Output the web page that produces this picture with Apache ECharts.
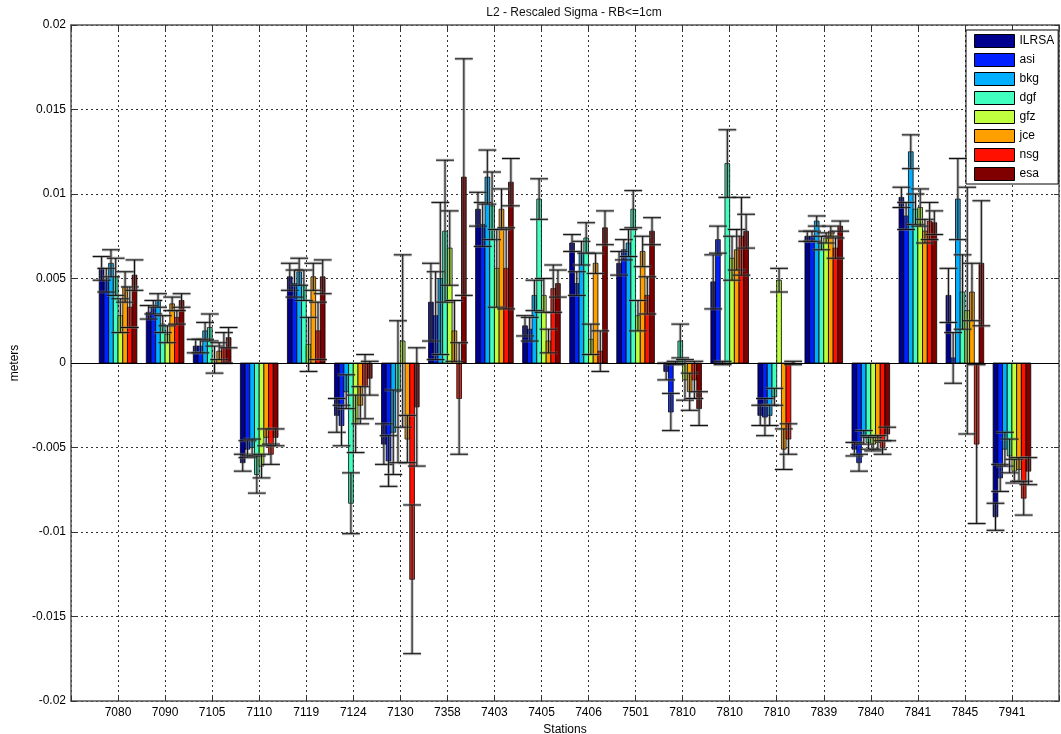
<!DOCTYPE html>
<html>
<head>
<meta charset="utf-8">
<script src="https://cdn.jsdelivr.net/npm/echarts@6/dist/echarts.min.js"></script>
<style>
  html, body { margin: 0; padding: 0; background: #fff; }
  #chart { width: 1061px; height: 734px; }
</style>
</head>
<body>
<div id="chart"></div>
<script>
// Stations along the x axis (tick labels)
const stations = ['7080', '7090', '7105', '7110', '7119', '7124', '7130', '7358', '7403', '7405',
                  '7406', '7501', '7810', '7810', '7810', '7839', '7840', '7841', '7845', '7941'];

// Analysis centres and their jet colours
const centers = ['ILRSA', 'asi', 'bkg', 'dgf', 'gfz', 'jce', 'nsg', 'esa'];
const colors = ['#00008F', '#0020FF', '#00AFFF', '#40FFBF', '#BFFF40', '#FFA000', '#FF1000', '#800000'];

// Mean values per station (meters)
const valILRSA = [0.0056, 0.0030, 0.0010, -0.0059, 0.0051, -0.0031, -0.0048, 0.0036, 0.0091, 0.0022, 0.0071, 0.0059, -0.0005, 0.0048, -0.0031, 0.0075, -0.0051, 0.0098, 0.0040, -0.0091];
const valAsi   = [0.0049, 0.0033, 0.0010, -0.0051, 0.0047, -0.0037, -0.0058, 0.0028, 0.0082, 0.0020, 0.0047, 0.0067, -0.0029, 0.0073, -0.0032, 0.0075, -0.0059, 0.0087, 0.0003, -0.0068];
const valBkg   = [0.0059, 0.0037, 0.0019, -0.0050, 0.0054, -0.0017, -0.0041, 0.0050, 0.0110, 0.0040, 0.0065, 0.0071, 0.0000, 0.0000, -0.0031, 0.0084, -0.0044, 0.0125, 0.0097, -0.0051];
const valDgf   = [0.0051, 0.0023, 0.0021, -0.0066, 0.0046, -0.0083, -0.0017, 0.0078, 0.0093, 0.0097, 0.0074, 0.0091, 0.0013, 0.0118, -0.0020, 0.0071, -0.0047, 0.0091, 0.0042, -0.0055];
const valGfz   = [0.0028, 0.0017, 0.0002, -0.0061, 0.0011, -0.0036, 0.0013, 0.0068, 0.0056, 0.0040, 0.0014, 0.0028, -0.0010, 0.0062, 0.0049, 0.0074, -0.0048, 0.0092, 0.0031, -0.0064];
const valJce   = [0.0045, 0.0035, 0.0007, -0.0044, 0.0051, -0.0025, -0.0045, 0.0019, 0.0091, 0.0013, 0.0059, 0.0066, -0.0017, 0.0067, -0.0051, 0.0078, -0.0047, 0.0078, 0.0042, -0.0063];
const valNsg   = [0.0033, 0.0027, 0.0009, -0.0054, 0.0019, -0.0014, -0.0128, -0.0021, 0.0056, 0.0044, 0.0007, 0.0040, -0.0010, 0.0075, -0.0045, 0.0068, -0.0050, 0.0084, -0.0048, -0.0080];
const valEsa   = [0.0052, 0.0037, 0.0015, -0.0044, 0.0051, -0.0009, -0.0026, 0.0110, 0.0107, 0.0047, 0.0080, 0.0078, -0.0027, 0.0078, 0.0000, 0.0081, -0.0042, 0.0083, 0.0059, -0.0064];

// Rescaled sigmas per station (meters)
const sigILRSA = [0.0007, 0.0004, 0.0004, 0.0005, 0.0008, 0.0010, 0.0012, 0.0023, 0.0010, 0.0006, 0.0005, 0.0007, 0.0005, 0.0016, 0.0006, 0.0003, 0.0004, 0.0006, 0.0016, 0.0008];
const sigAsi   = [0.0007, 0.0004, 0.0004, 0.0005, 0.0008, 0.0012, 0.0015, 0.0026, 0.0013, 0.0007, 0.0007, 0.0006, 0.0011, 0.0008, 0.0011, 0.0003, 0.0005, 0.0008, 0.0015, 0.0008];
const sigBkg   = [0.0008, 0.0004, 0.0005, 0.0005, 0.0008, 0.0010, 0.0025, 0.0045, 0.0016, 0.0009, 0.0007, 0.0008, 0.0001, 0.0001, 0.0006, 0.0003, 0.0004, 0.0010, 0.0024, 0.0010];
const sigDgf   = [0.0011, 0.0005, 0.0008, 0.0011, 0.0009, 0.0018, 0.0042, 0.0042, 0.0020, 0.0012, 0.0009, 0.0011, 0.0010, 0.0020, 0.0005, 0.0004, 0.0004, 0.0009, 0.0022, 0.0010];
const sigGfz   = [0.0010, 0.0005, 0.0008, 0.0007, 0.0016, 0.0017, 0.0051, 0.0022, 0.0023, 0.0010, 0.0009, 0.0009, 0.0012, 0.0013, 0.0007, 0.0003, 0.0004, 0.0011, 0.0073, 0.0007];
const sigJce   = [0.0009, 0.0004, 0.0005, 0.0005, 0.0008, 0.0011, 0.0014, 0.0018, 0.0012, 0.0007, 0.0006, 0.0009, 0.0011, 0.0012, 0.0012, 0.0003, 0.0004, 0.0007, 0.0017, 0.0007];
const sigNsg   = [0.0012, 0.0004, 0.0009, 0.0006, 0.0017, 0.0019, 0.0044, 0.0033, 0.0024, 0.0014, 0.0012, 0.0011, 0.0011, 0.0023, 0.0009, 0.0006, 0.0004, 0.0011, 0.0047, 0.0010];
const sigEsa   = [0.0009, 0.0004, 0.0006, 0.0005, 0.0010, 0.0010, 0.0035, 0.0070, 0.0014, 0.0008, 0.0010, 0.0008, 0.0010, 0.0010, 0.0001, 0.0003, 0.0004, 0.0007, 0.0037, 0.0008];

const values = [valILRSA, valAsi, valBkg, valDgf, valGfz, valJce, valNsg, valEsa];
const sigmas = [sigILRSA, sigAsi, sigBkg, sigDgf, sigGfz, sigJce, sigNsg, sigEsa];

const FONT = 'Liberation Sans, Arial, sans-serif';
const GROUP = 0.8;            // fraction of a station slot used by a group
const NBARS = centers.length;

// one grouped bar, positioned from the axis scale
function barRenderer(k) {
  return function (params, api) {
    const xi = api.value(0), v = api.value(1);
    const band = api.size([1, 0])[0];
    const bw = band * GROUP / NBARS;
    const base = api.coord([xi, 0]);
    const top = api.coord([xi, v]);
    const cx = base[0] + (k - (NBARS - 1) / 2) * bw;
    return {
      type: 'rect',
      shape: { x: cx - bw / 2, y: Math.min(base[1], top[1]), width: bw, height: Math.abs(top[1] - base[1]) },
      style: { fill: colors[k], stroke: '#000', lineWidth: 0.8 }
    };
  };
}

// value ± sigma whisker with caps
function errRenderer(params, api) {
  const xi = api.value(0), k = api.value(1), v = api.value(2), s = api.value(3);
  const band = api.size([1, 0])[0];
  const bw = band * GROUP / NBARS;
  const cx = api.coord([xi, 0])[0] + (k - (NBARS - 1) / 2) * bw;
  const yHi = api.coord([xi, v + s])[1];
  const yLo = api.coord([xi, v - s])[1];
  const cap = band * 0.19;
  const segs = [
    [cx, yHi, cx, yLo],
    [cx - cap, yHi, cx + cap, yHi],
    [cx - cap, yLo, cx + cap, yLo]
  ];
  const children = [];
  segs.forEach(function (p) {
    children.push({ type: 'line', shape: { x1: p[0], y1: p[1], x2: p[2], y2: p[3] },
      style: { stroke: 'rgba(120,120,120,0.5)', lineWidth: 3 } });
  });
  segs.forEach(function (p) {
    children.push({ type: 'line', shape: { x1: p[0], y1: p[1], x2: p[2], y2: p[3] },
      style: { stroke: '#111', lineWidth: 1 } });
  });
  return { type: 'group', children: children };
}

const series = [];
centers.forEach(function (name, k) {
  const s = {
    name: name,
    type: 'custom',
    renderItem: barRenderer(k),
    itemStyle: { color: colors[k], borderColor: '#000', borderWidth: 1 },
    data: values[k].map(function (v, i) { return [i + 1, v]; }),
    z: 3
  };
  if (k === 0) {
    s.markLine = {
      silent: true, symbol: 'none', label: { show: false },
      lineStyle: { color: '#000', type: 'solid', width: 1 },
      data: [{ yAxis: 0 }]
    };
  }
  series.push(s);
});

const errData = [];
centers.forEach(function (name, k) {
  values[k].forEach(function (v, i) { errData.push([i + 1, k, v, sigmas[k][i]]); });
});
series.push({
  name: 'sigma',
  type: 'custom',
  renderItem: errRenderer,
  encode: { x: 0, y: 2 },
  data: errData,
  z: 4
});

const chart = echarts.init(document.getElementById('chart'), null, { renderer: 'canvas' });
chart.setOption({
  animation: false,
  backgroundColor: '#fff',
  textStyle: { fontFamily: FONT },
  title: {
    text: 'L2 - Rescaled Sigma - RB<=1cm',
    left: 569, top: 2, textAlign: 'center',
    textStyle: { fontFamily: FONT, fontSize: 12, fontWeight: 'normal', color: '#111' }
  },
  legend: {
    data: centers,
    orient: 'vertical',
    left: 966, top: 30,
    backgroundColor: '#fff',
    borderColor: '#000', borderWidth: 1,
    padding: [4, 4, 3, 8],
    itemWidth: 40, itemHeight: 13, itemGap: 5,
    icon: 'rect',
    itemStyle: { borderColor: '#000', borderWidth: 1 },
    textStyle: { fontFamily: FONT, fontSize: 12, color: '#000' }
  },
  grid: { left: 71, right: 2, top: 25, bottom: 33, containLabel: false, outerBoundsMode: 'none' },
  xAxis: [
    {
      type: 'value', min: 0, max: 21, interval: 1, position: 'bottom',
      name: 'Stations', nameLocation: 'middle', nameGap: 18,
      nameTextStyle: { fontFamily: FONT, fontSize: 12, color: '#000' },
      axisLine: { onZero: false, lineStyle: { color: '#555', width: 1.5 } },
      axisTick: { inside: true, length: 5, lineStyle: { color: '#333' } },
      axisLabel: {
        fontFamily: FONT, fontSize: 12, color: '#000', margin: 6,
        formatter: function (v) { return (v >= 1 && v <= stations.length) ? stations[v - 1] : ''; }
      },
      splitLine: { show: true, lineStyle: { color: '#333', type: [2, 3], width: 1 } }
    },
    {
      type: 'value', min: 0, max: 21, interval: 1, position: 'top',
      axisLine: { onZero: false, lineStyle: { color: '#555', width: 1.5 } },
      axisTick: { inside: true, length: 5, lineStyle: { color: '#333' } },
      axisLabel: { show: false },
      splitLine: { show: false }
    }
  ],
  yAxis: [
    {
      type: 'value', min: -0.02, max: 0.02, interval: 0.005, position: 'left',
      name: 'meters', nameLocation: 'middle', nameGap: 49, nameRotate: 90,
      nameTextStyle: { fontFamily: FONT, fontSize: 12, color: '#000' },
      axisLine: { show: true, onZero: false, lineStyle: { color: '#555', width: 1.5 } },
      axisTick: { show: true, inside: true, length: 5, lineStyle: { color: '#333' } },
      axisLabel: { fontFamily: FONT, fontSize: 12, color: '#000', margin: 5 },
      splitLine: { show: true, lineStyle: { color: '#333', type: [2, 3], width: 1 } }
    },
    {
      type: 'value', min: -0.02, max: 0.02, interval: 0.005, position: 'right',
      axisLine: { show: true, onZero: false, lineStyle: { color: '#555', width: 1.5 } },
      axisTick: { show: true, inside: true, length: 5, lineStyle: { color: '#333' } },
      axisLabel: { show: false },
      splitLine: { show: false }
    }
  ],
  series: series
});
</script>
</body>
</html>
